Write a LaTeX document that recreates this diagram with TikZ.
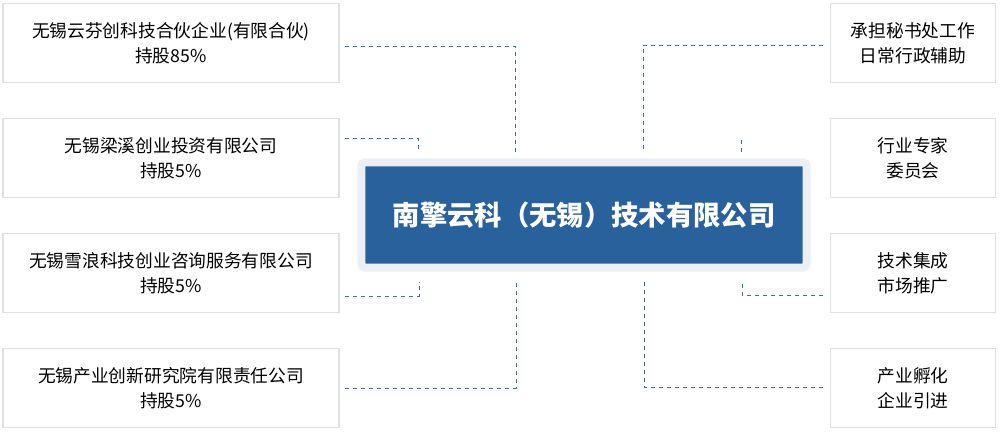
\documentclass[tikz,border=0pt]{standalone}
\usepackage{fontspec}
\setmainfont{Noto Sans CJK SC}
\usetikzlibrary{positioning,calc}

\begin{document}
\begin{tikzpicture}[
    x=0.75pt, y=-0.75pt,
    holder/.style={rectangle, draw=black!12, line width=1.2pt, fill=white, minimum width=252pt, minimum height=59pt, align=center, font=\fontsize{13.3pt}{19pt}\selectfont},
    duty/.style={holder, minimum width=124pt},
    core/.style={rectangle, draw={rgb,255:red,236;green,240;blue,245}, line width=6pt, rounded corners=3pt, minimum width=334pt, minimum height=79pt, text=white, font=\bfseries\fontsize{20.5pt}{24pt}\selectfont},
    link/.style={dashed, draw={rgb,255:red,60;green,110;blue,170}, line width=0.6pt}
]
\useasboundingbox (0,0) rectangle (1000,434);
\fill[white] (0,0) rectangle (1000,434);

% centre
\node[core, fill={rgb,255:red,40;green,97;blue,156}] (main) at (584,215) {南擎云科（无锡）技术有限公司};

% shareholders
\node[holder] (h1) at (171,43) {无锡云芬创科技合伙企业(有限合伙)\\持股85\%};
\node[holder] (h2) at (171,158) {无锡梁溪创业投资有限公司\\持股5\%};
\node[holder] (h3) at (171,273) {无锡雪浪科技创业咨询服务有限公司\\持股5\%};
\node[holder] (h4) at (171,388) {无锡产业创新研究院有限责任公司\\持股5\%};

% duties
\node[duty] (d1) at (913,43) {承担秘书处工作\\日常行政辅助};
\node[duty] (d2) at (913,158) {行业专家\\委员会};
\node[duty] (d3) at (913,273) {技术集成\\市场推广};
\node[duty] (d4) at (913,388) {产业孵化\\企业引进};

% stub ends
\coordinate (t1) at (515,152);
\coordinate (t2) at (418,152);
\coordinate (b3) at (419,282);
\coordinate (b4) at (516,282);
\coordinate (t5) at (643,152);
\coordinate (t6) at (741,152);
\coordinate (b7) at (742,282);
\coordinate (b8) at (644,282);

% links
\draw[link] (h1.east|-0,46) ++(5,0) -| (t1);
\draw[link] (h2.east|-0,138) ++(5,0) -| (t2);
\draw[link] (h3.east|-0,296) ++(5,0) -| (b3);
\draw[link] (h4.east|-0,388) ++(5,0) -| (b4);
\draw[link] (d1.west|-0,45) ++(-7,0) -| (t5);
\draw[link] (t6) -- ++(0,-13);
\draw[link] (d3.west|-0,295) ++(-7,0) -| (b7);
\draw[link] (d4.west|-0,387) ++(-7,0) -| (b8);

\end{tikzpicture}
\end{document}
